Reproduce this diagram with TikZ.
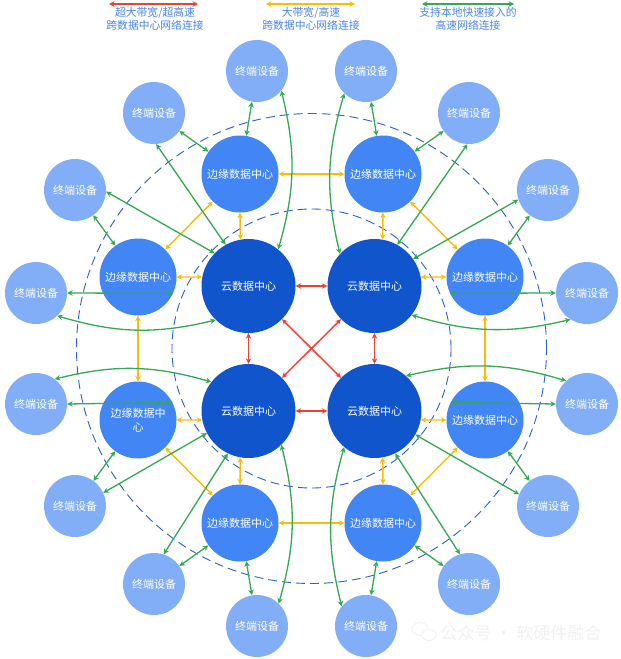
\documentclass[tikz,border=0pt]{standalone}
\usepackage{fontspec}
\newfontfamily\cjk{Noto Sans CJK SC}
\usetikzlibrary{arrows.meta}
\definecolor{cloudblue}{HTML}{1155CC}
\definecolor{edgeblue}{HTML}{4285F4}
\definecolor{termblue}{HTML}{82AEF7}
\definecolor{lred}{HTML}{EA4335}
\definecolor{lyellow}{HTML}{FBBC05}
\definecolor{lgreen}{HTML}{34A853}
\definecolor{dashblue}{HTML}{2A5FD0}
\definecolor{legtext}{HTML}{4A86E8}
\definecolor{wm}{HTML}{F1F1F1}
\tikzset{
  cloudnode/.style={circle, fill=cloudblue, minimum size=94pt, inner sep=0pt, text=white, font=\cjk\fontsize{11}{13}\selectfont},
  edgenode/.style={circle, fill=edgeblue, minimum size=77pt, inner sep=0pt, text=white, font=\cjk\fontsize{11}{14}\selectfont, align=center},
  termnode/.style={circle, fill=termblue, minimum size=62pt, inner sep=0pt, text=white, font=\cjk\fontsize{11}{13}\selectfont},
  redlink/.style={draw=lred, line width=1.5pt, {Stealth[length=5.5pt,width=5.5pt]}-{Stealth[length=5.5pt,width=5.5pt]}},
  yellowlink/.style={draw=lyellow, line width=1.4pt, {Stealth[length=5.5pt,width=5.5pt]}-{Stealth[length=5.5pt,width=5.5pt]}},
  greenlink/.style={draw=lgreen, line width=1.3pt, {Stealth[length=5.5pt,width=5.5pt]}-{Stealth[length=5.5pt,width=5.5pt]}},
  dashring/.style={draw=dashblue, line width=0.9pt, dash pattern=on 9pt off 5pt},
  legendtext/.style={text=legtext, font=\cjk\fontsize{10.8}{13}\selectfont, align=center, inner sep=0pt},
}
\begin{document}
\begin{tikzpicture}[x=1pt,y=-1pt]
\useasboundingbox (0,0) rectangle (621,659);
\fill[white] (0,0) rectangle (621,659);

% dashed rings
\coordinate (ctr) at (311.5,348.5);
\draw[dashring] (ctr) circle[radius=235pt];
\draw[dashring] (ctr) circle[radius=139.5pt];

% cloud data centres
\node[cloudnode] (c1) at (248.5,286) {云数据中心};
\node[cloudnode] (c2) at (374.5,286) {云数据中心};
\node[cloudnode] (c3) at (248.5,411) {云数据中心};
\node[cloudnode] (c4) at (374.5,411) {云数据中心};

% edge data centres
\node[edgenode] (e1) at (240,174) {边缘数据中心};
\node[edgenode] (e2) at (383,174) {边缘数据中心};
\node[edgenode] (e3) at (138,277) {边缘数据中心};
\node[edgenode] (e4) at (485,277) {边缘数据中心};
\node[edgenode] (e5) at (138,420) {边缘数据中\\心};
\node[edgenode] (e6) at (485,420) {边缘数据中心};
\node[edgenode] (e7) at (240,523) {边缘数据中心};
\node[edgenode] (e8) at (383,523) {边缘数据中心};

% terminals
\node[termnode] (t1) at (257,71) {终端设备};
\node[termnode] (t2) at (366,71) {终端设备};
\node[termnode] (t3) at (154,113) {终端设备};
\node[termnode] (t4) at (469,113) {终端设备};
\node[termnode] (t5) at (75,190) {终端设备};
\node[termnode] (t6) at (548,190) {终端设备};
\node[termnode] (t7) at (36,293) {终端设备};
\node[termnode] (t8) at (587,293) {终端设备};
\node[termnode] (t9) at (36,404) {终端设备};
\node[termnode] (t10) at (587,404) {终端设备};
\node[termnode] (t11) at (75,506) {终端设备};
\node[termnode] (t12) at (548,506) {终端设备};
\node[termnode] (t13) at (154,584) {终端设备};
\node[termnode] (t14) at (469,584) {终端设备};
\node[termnode] (t15) at (257,626) {终端设备};
\node[termnode] (t16) at (366,626) {终端设备};

% red links
\draw[redlink] (c1) -- (c2);
\draw[redlink] (c3) -- (c4);
\draw[redlink] (c1) -- (c3);
\draw[redlink] (c2) -- (c4);
\draw[redlink] (c1) -- (c4);
\draw[redlink] (c2) -- (c3);

% yellow links
\draw[yellowlink] (e1) -- (e2);
\draw[yellowlink] (e7) -- (e8);
\draw[yellowlink] (e3) -- (e5);
\draw[yellowlink] (e4) -- (e6);
\draw[yellowlink] (e1) -- (e3);
\draw[yellowlink] (e2) -- (e4);
\draw[yellowlink] (e5) -- (e7);
\draw[yellowlink] (e6) -- (e8);
\draw[yellowlink] (e1.south) -- (c1.100);
\draw[yellowlink] (e2.south) -- (c2.80);
\draw[yellowlink] (e3.east) -- (c1.169);
\draw[yellowlink] (e4.west) -- (c2.11);
\draw[yellowlink] (e5.east) -- (c3.191);
\draw[yellowlink] (e6.west) -- (c4.-11);
\draw[yellowlink] (e7.north) -- (c3.260);
\draw[yellowlink] (e8.north) -- (c4.280);

% green short links
\draw[greenlink] (t1) -- (e1);
\draw[greenlink] (t3) -- (e1);
\draw[greenlink] (t2) -- (e2);
\draw[greenlink] (t4) -- (e2);
\draw[greenlink] (t5) -- (e3);
\draw[greenlink] (t7.east) -- (e3.-25);
\draw[greenlink] (t6) -- (e4);
\draw[greenlink] (t8.west) -- (e4.205);
\draw[greenlink] (t9.east) -- (e5.27);
\draw[greenlink] (t11) -- (e5);
\draw[greenlink] (t10.west) -- (e6.153);
\draw[greenlink] (t12) -- (e6);
\draw[greenlink] (t13) -- (e7);
\draw[greenlink] (t15) -- (e7);
\draw[greenlink] (t14) -- (e8);
\draw[greenlink] (t16) -- (e8);

% green long straight links
\draw[greenlink] (t3.-86.5) -- (c1.119);
\draw[greenlink] (t5.-3.6) -- (c1.136);
\draw[greenlink] (t4.-93) -- (c2.61);
\draw[greenlink] (t6.198) -- (c2.35);
\draw[greenlink] (c3.208) -- (t11.25);
\draw[greenlink] (c3.244) -- (t13.72);
\draw[greenlink] (c4.-64.5) -- (t14.107);
\draw[greenlink] (c4.-30) -- (t12.158);

% green curved links
\draw[greenlink] (t1.-39) to[bend left=15] (c1.51);
\draw[greenlink] (t2.226) to[bend right=15] (c2.137);
\draw[greenlink] (t7.-47) to[bend right=15] (c1.226);
\draw[greenlink] (t9.53) to[bend left=15] (c3.142);
\draw[greenlink] (c2.-38) to[bend right=15] (t8.238);
\draw[greenlink] (c4.48) to[bend left=15] (t10.132);
\draw[greenlink] (c3.-46) to[bend left=15] (t15.46);
\draw[greenlink] (c4.230) to[bend right=15] (t16.141);

% legend
\coordinate (lr1) at (109,4);  \coordinate (lr2) at (198,4);
\coordinate (ly1) at (266,4);  \coordinate (ly2) at (355,4);
\coordinate (lg1) at (422,4);  \coordinate (lg2) at (514,4);
\draw[redlink, line width=1.3pt] (lr1) -- (lr2);
\draw[yellowlink, line width=1.3pt] (ly1) -- (ly2);
\draw[greenlink] (lg1) -- (lg2);
\node[legendtext] (lt1) at (155,19) {超大带宽/超高速\\跨数据中心网络连接};
\node[legendtext] (lt2) at (311,19) {大带宽/高速\\跨数据中心网络连接};
\node[legendtext] (lt3) at (468,19) {支持本地快速接入的\\高速网络连接};

% watermark
\node[text=wm, font=\cjk\fontsize{17}{17}\selectfont, inner sep=0pt] (wmk) at (521,633) {公众号 · 软硬件融合};
\draw[wm, line width=0.8pt] (420,629) ellipse[x radius=8pt, y radius=6.5pt];
\draw[wm, line width=0.8pt, fill=white] (429,635) ellipse[x radius=7pt, y radius=5.5pt];
\end{tikzpicture}
\end{document}
